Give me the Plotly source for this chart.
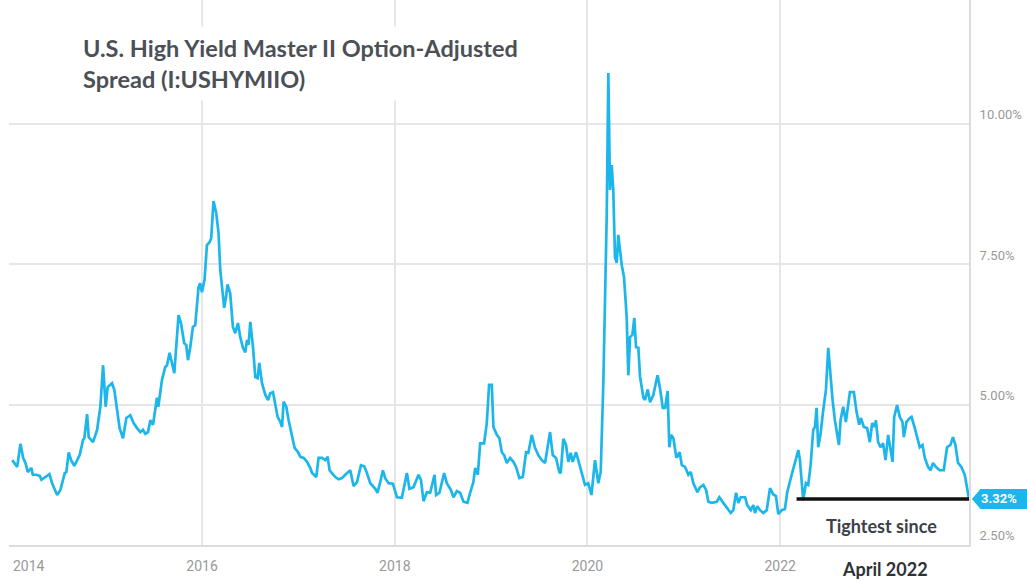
import plotly.graph_objects as go
from datetime import datetime

# ---- data (decimal year, OAS %) ----
years = [
    2014.028, 2014.062, 2014.080, 2014.114, 2014.142, 2014.166, 2014.190, 2014.228, 2014.242, 2014.280,
    2014.314, 2014.332, 2014.373, 2014.415, 2014.443, 2014.495, 2014.529, 2014.574, 2014.591, 2014.615,
    2014.640, 2014.674, 2014.729, 2014.764, 2014.778, 2014.806, 2014.823, 2014.868, 2014.910, 2014.944,
    2014.972, 2014.999, 2015.020, 2015.065, 2015.089, 2015.117, 2015.144, 2015.179, 2015.214, 2015.255,
    2015.289, 2015.325, 2015.359, 2015.387, 2015.411, 2015.439, 2015.463, 2015.491, 2015.532, 2015.546,
    2015.584, 2015.618, 2015.636, 2015.663, 2015.688, 2015.712, 2015.756, 2015.781, 2015.815, 2015.836,
    2015.854, 2015.878, 2015.905, 2015.929, 2015.964, 2015.981, 2015.999, 2016.026, 2016.051, 2016.078,
    2016.095, 2016.119, 2016.147, 2016.171, 2016.189, 2016.217, 2016.230, 2016.251, 2016.264, 2016.292,
    2016.320, 2016.344, 2016.372, 2016.396, 2016.424, 2016.448, 2016.466, 2016.482, 2016.500, 2016.528,
    2016.552, 2016.576, 2016.593, 2016.621, 2016.656, 2016.684, 2016.707, 2016.735, 2016.759, 2016.783,
    2016.811, 2016.829, 2016.845, 2016.873, 2016.897, 2016.932, 2016.959, 2016.995, 2017.019, 2017.053,
    2017.088, 2017.122, 2017.140, 2017.184, 2017.208, 2017.244, 2017.278, 2017.302, 2017.322, 2017.347,
    2017.382, 2017.416, 2017.451, 2017.485, 2017.520, 2017.537, 2017.571, 2017.607, 2017.648, 2017.682,
    2017.710, 2017.745, 2017.797, 2017.820, 2017.848, 2017.876, 2017.900, 2017.935, 2017.980, 2018.022,
    2018.073, 2018.097, 2018.125, 2018.152, 2018.194, 2018.246, 2018.271, 2018.298, 2018.333, 2018.367,
    2018.412, 2018.429, 2018.463, 2018.512, 2018.540, 2018.582, 2018.609, 2018.644, 2018.678, 2018.713,
    2018.754, 2018.782, 2018.816, 2018.834, 2018.862, 2018.886, 2018.927, 2018.955, 2018.979, 2019.007,
    2019.024, 2019.059, 2019.086, 2019.111, 2019.135, 2019.163, 2019.197, 2019.231, 2019.259, 2019.293,
    2019.329, 2019.363, 2019.387, 2019.422, 2019.456, 2019.490, 2019.526, 2019.560, 2019.584, 2019.612,
    2019.640, 2019.674, 2019.708, 2019.723, 2019.750, 2019.778, 2019.802, 2019.827, 2019.847, 2019.882,
    2019.905, 2019.941, 2019.975, 2020.009, 2020.042, 2020.079, 2020.113, 2020.138, 2020.165, 2020.200,
    2020.217, 2020.234, 2020.252, 2020.268, 2020.286, 2020.304, 2020.320, 2020.338, 2020.356, 2020.379,
    2020.407, 2020.424, 2020.442, 2020.466, 2020.486, 2020.504, 2020.528, 2020.545, 2020.580, 2020.597,
    2020.625, 2020.649, 2020.683, 2020.711, 2020.727, 2020.753, 2020.781, 2020.805, 2020.831, 2020.849,
    2020.867, 2020.891, 2020.922, 2020.955, 2020.978, 2021.012, 2021.046, 2021.071, 2021.098, 2021.140,
    2021.168, 2021.202, 2021.230, 2021.254, 2021.289, 2021.341, 2021.368, 2021.409, 2021.445, 2021.486,
    2021.513, 2021.541, 2021.565, 2021.590, 2021.635, 2021.658, 2021.694, 2021.721, 2021.738, 2021.762,
    2021.790, 2021.824, 2021.860, 2021.894, 2021.928, 2021.956, 2021.980, 2022.015, 2022.049, 2022.073,
    2022.119, 2022.153, 2022.188, 2022.205, 2022.239, 2022.267, 2022.291, 2022.316, 2022.343, 2022.361,
    2022.378, 2022.395, 2022.420, 2022.447, 2022.475, 2022.499, 2022.523, 2022.544, 2022.568, 2022.610,
    2022.627, 2022.654, 2022.682, 2022.706, 2022.724, 2022.765, 2022.793, 2022.820, 2022.838, 2022.869,
    2022.903, 2022.931, 2022.955, 2022.983, 2022.994, 2023.017, 2023.042, 2023.069, 2023.094, 2023.121,
    2023.149, 2023.167, 2023.184, 2023.214, 2023.242, 2023.270, 2023.284, 2023.312, 2023.346, 2023.364,
    2023.398, 2023.422, 2023.450, 2023.478, 2023.502, 2023.536, 2023.561, 2023.588, 2023.616, 2023.657,
    2023.699, 2023.733, 2023.768, 2023.795, 2023.820, 2023.847, 2023.882, 2023.917, 2023.941, 2023.961,
]
spread = [
    4.01, 3.92, 3.89, 4.30, 4.05, 3.96, 3.80, 3.87, 3.75, 3.75,
    3.73, 3.66, 3.71, 3.76, 3.60, 3.39, 3.48, 3.78, 3.80, 4.15,
    4.01, 3.91, 4.10, 4.37, 4.40, 4.83, 4.42, 4.33, 4.55, 4.96,
    5.70, 4.96, 5.31, 5.38, 5.26, 4.90, 4.58, 4.40, 4.76, 4.81,
    4.67, 4.58, 4.51, 4.55, 4.48, 4.51, 4.72, 4.64, 5.12, 4.96,
    5.44, 5.67, 5.70, 5.92, 5.76, 5.56, 6.59, 6.45, 6.09, 6.06,
    5.79, 6.02, 6.38, 6.41, 7.09, 7.16, 7.00, 7.22, 7.84, 7.89,
    7.96, 8.62, 8.41, 8.05, 7.39, 6.95, 6.72, 6.95, 7.14, 6.98,
    6.38, 6.27, 6.45, 6.20, 6.01, 5.93, 6.15, 6.06, 6.47, 6.02,
    5.49, 5.47, 5.74, 5.38, 5.17, 5.08, 5.20, 5.22, 5.03, 4.78,
    4.69, 4.60, 5.05, 4.96, 4.72, 4.42, 4.23, 4.15, 4.07, 4.05,
    3.98, 3.87, 3.78, 3.71, 4.05, 4.05, 4.01, 4.07, 3.83, 3.78,
    3.71, 3.67, 3.69, 3.75, 3.80, 3.83, 3.55, 3.62, 3.92, 3.90,
    3.78, 3.60, 3.50, 3.43, 3.62, 3.83, 3.69, 3.60, 3.59, 3.35,
    3.34, 3.57, 3.78, 3.50, 3.53, 3.75, 3.66, 3.28, 3.44, 3.43,
    3.75, 3.39, 3.43, 3.78, 3.60, 3.48, 3.35, 3.46, 3.43, 3.27,
    3.25, 3.43, 3.62, 3.87, 3.75, 4.31, 4.31, 4.67, 5.35, 5.35,
    4.60, 4.46, 4.40, 4.15, 4.10, 3.96, 4.05, 3.98, 3.89, 3.69,
    3.71, 4.15, 4.14, 4.46, 4.23, 4.10, 4.01, 3.96, 4.19, 4.51,
    4.10, 4.05, 3.80, 3.78, 4.39, 4.28, 3.98, 4.14, 3.98, 4.15,
    4.01, 3.78, 3.57, 3.60, 3.39, 4.01, 3.60, 3.80, 5.38, 8.34,
    10.90, 8.82, 9.26, 8.82, 7.62, 7.52, 8.02, 7.75, 7.48, 7.27,
    6.56, 5.52, 6.20, 6.24, 6.54, 6.02, 6.01, 5.50, 5.12, 5.08,
    5.27, 5.04, 5.17, 5.40, 5.52, 5.28, 4.94, 4.94, 5.24, 4.24,
    4.46, 4.40, 4.05, 4.15, 3.92, 3.89, 3.75, 3.80, 3.60, 3.44,
    3.53, 3.57, 3.48, 3.27, 3.25, 3.27, 3.35, 3.25, 3.16, 3.07,
    3.12, 3.43, 3.25, 3.35, 3.35, 3.21, 3.12, 3.21, 3.07, 3.19,
    3.12, 3.07, 3.12, 3.51, 3.40, 3.37, 3.05, 3.12, 3.14, 3.44,
    3.75, 3.98, 4.19, 4.01, 3.30, 3.60, 3.57, 3.92, 4.55, 4.60,
    4.94, 4.24, 4.49, 4.90, 5.26, 6.01, 5.44, 5.08, 4.72, 4.28,
    4.72, 4.96, 4.69, 5.03, 5.22, 5.22, 4.87, 4.64, 4.76, 4.60,
    4.58, 4.33, 4.67, 4.60, 4.72, 4.33, 4.24, 4.31, 4.01, 4.46,
    4.19, 3.98, 4.78, 4.99, 4.78, 4.69, 4.42, 4.69, 4.76, 4.78,
    4.58, 4.40, 4.24, 4.28, 4.05, 3.89, 3.83, 3.96, 3.89, 3.83,
    3.83, 4.24, 4.28, 4.42, 4.28, 3.96, 3.89, 3.75, 3.48, 3.32,
]

tick_years = [2014, 2016, 2018, 2020, 2022]
y_ticks = [2.5, 5.0, 7.5, 10.0]
tight_since_year = 2022.17

title_text = "U.S. High Yield Master II Option-Adjusted<br>Spread (I:USHYMIIO)"
note_line1 = "Tightest since"
note_line2 = "April 2022"


def to_date(yf):
    y = int(yf)
    start = datetime(y, 1, 1)
    end = datetime(y + 1, 1, 1)
    return start + (end - start) * (yf - y)


dates = [to_date(v) for v in years]
last_val = spread[-1]
last_date = dates[-1]

LINE = "#1db6ea"
TICK_GRAY = "#999999"

fig = go.Figure()
fig.add_trace(go.Scatter(
    x=dates, y=spread, mode="lines",
    line=dict(color=LINE, width=2.7),
    hoverinfo="skip", showlegend=False,
))
fig.add_trace(go.Scatter(
    x=[to_date(tight_since_year), last_date], y=[last_val, last_val],
    mode="lines", line=dict(color="#111111", width=3.5),
    hoverinfo="skip", showlegend=False,
))

fig.update_layout(
    width=1027, height=581,
    margin=dict(l=9, r=58, t=0, b=36),
    paper_bgcolor="white", plot_bgcolor="white",
    showlegend=False,
    xaxis=dict(
        type="date",
        range=[to_date(2013.995), last_date],
        tickvals=[to_date(y) for y in tick_years[1:]],
        ticktext=[str(y) for y in tick_years[1:]],
        ticklabelstandoff=7,
        showgrid=True, gridcolor="#e6e6e6", gridwidth=1.5,
        showline=True, linecolor="#dcdcdc", linewidth=2,
        ticks="", tickfont=dict(family="Roboto", size=14, color=TICK_GRAY),
        zeroline=False, automargin=False,
    ),
    yaxis=dict(
        side="right",
        range=[2.5, 12.2],
        tickvals=y_ticks,
        ticktext=[f"{v:.2f}%" for v in y_ticks],
        ticklabelposition="outside top",
        ticklabelstandoff=6,
        showgrid=True, gridcolor="#e6e6e6", gridwidth=1.5,
        showline=True, linecolor="#dcdcdc", linewidth=2,
        ticks="", tickfont=dict(family="Roboto", size=13, color=TICK_GRAY),
        zeroline=False, automargin=False,
    ),
)

# first year label (kept inside the page)
fig.add_annotation(
    x=to_date(tick_years[0]), y=0, xref="x", yref="paper",
    text=str(tick_years[0]), showarrow=False,
    xanchor="left", yanchor="middle", xshift=2, yshift=-21,
    font=dict(family="Roboto", size=14, color=TICK_GRAY),
)

# title
fig.add_annotation(
    x=0.069, y=0.953, xref="paper", yref="paper",
    text=f"<b>{title_text}</b>", showarrow=False, align="left",
    xanchor="left", yanchor="top",
    font=dict(family="Lato", size=23.5, color="#4b5056"),
    bgcolor="white", borderpad=7,
)

# last value tag
tag_h = 0.178
fig.add_shape(
    type="path", xref="paper", yref="y",
    path=(f"M 1.003,{last_val} L 1.012,{last_val + tag_h} L 1.07,{last_val + tag_h} "
          f"L 1.07,{last_val - tag_h} L 1.012,{last_val - tag_h} Z"),
    fillcolor=LINE, line=dict(width=0), layer="above",
)
fig.add_annotation(
    x=1.0105, y=last_val, xref="paper", yref="y",
    text=f"<b>{last_val:.2f}%</b>", showarrow=False,
    xanchor="left", yanchor="middle",
    font=dict(family="Roboto", size=13, color="white"),
)

# notes
fig.add_annotation(
    x=0.909, y=2.84, xref="paper", yref="y",
    text=f"<b>{note_line1}</b>", showarrow=False,
    xanchor="center", yanchor="middle",
    font=dict(family="Lato", size=18, color="#3c4146"),
)
fig.add_annotation(
    x=0.913, y=0, xref="paper", yref="paper",
    text=f"<b>{note_line2}</b>", showarrow=False,
    xanchor="center", yanchor="middle", yshift=-24,
    font=dict(family="Lato", size=18, color="#2e3236"),
)

fig.write_html(
    "out.html",
    config={"displayModeBar": False},
    post_script="document.body.style.margin='0';",
)
